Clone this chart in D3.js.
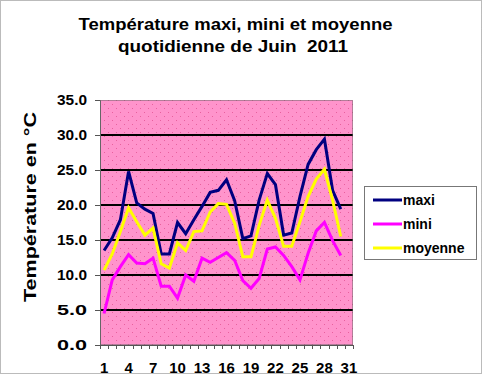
<!DOCTYPE html>
<html>
<head>
<meta charset="utf-8">
<script src="https://cdn.jsdelivr.net/npm/d3@7"></script>
<style>
  body { margin: 0; background: #fff; }
  svg { display: block; font-family: "Liberation Sans", Arial, sans-serif; }
</style>
</head>
<body>
<div id="chart"></div>
<script>
// data: daily temperatures, June 2011
var days = d3.range(1, 32);
var maxi    = [13.5, 15.3, 17.9, 24.8, 20.3, 19.4, 18.8, 13.0, 13.0, 17.5, 15.9, 17.9, 19.8, 21.8, 22.1, 23.6, 20.6, 15.2, 15.6, 20.7, 24.5, 22.9, 15.7, 16.0, 21.2, 25.8, 27.9, 29.4, 22.1, 19.4];
var mini    = [4.5, 9.3, 11.2, 12.9, 11.7, 11.6, 12.4, 8.4, 8.4, 6.7, 10.0, 9.1, 12.4, 11.8, 12.5, 13.2, 12.1, 9.2, 8.1, 9.5, 13.7, 14.0, 12.8, 11.2, 9.3, 13.1, 16.3, 17.5, 14.9, 12.8];
var moyenne = [10.7, 13.0, 16.2, 19.6, 17.6, 15.7, 16.7, 11.6, 11.0, 14.6, 13.5, 16.2, 16.3, 19.0, 20.2, 20.1, 17.4, 12.6, 12.6, 17.1, 20.7, 18.1, 14.1, 14.1, 17.6, 21.2, 23.7, 25.1, 20.7, 15.5];
var yTicks = [0, 5, 10, 15, 20, 25, 30, 35];
var xLabels = [1, 4, 7, 10, 13, 16, 19, 22, 25, 28, 31];

var series = [
  { name: 'maxi', values: maxi, color: '#000080' },
  { name: 'mini', values: mini, color: '#FF00FF' },
  { name: 'moyenne', values: moyenne, color: '#FFFF00' }
];

var W = 484, H = 375;
var plot = { left: 100, right: 353, top: 100, bottom: 345 };

var svg = d3.select('#chart').append('svg')
  .attr('width', W)
  .attr('height', H);

// dotted pink fill like the excel pattern
var defs = svg.append('defs');
var pat = defs.append('pattern')
  .attr('id', 'dots')
  .attr('patternUnits', 'userSpaceOnUse')
  .attr('width', 8)
  .attr('height', 8);
pat.append('rect').attr('width', 8).attr('height', 8).attr('fill', '#FF94CC');
pat.append('rect').attr('x', 0).attr('y', 0).attr('width', 1).attr('height', 1).attr('fill', '#E8609E');
pat.append('rect').attr('x', 4).attr('y', 4).attr('width', 1).attr('height', 1).attr('fill', '#E8609E');

// outer border
svg.append('rect')
  .attr('x', 0.5).attr('y', 0.5)
  .attr('width', W - 3).attr('height', H - 2)
  .attr('fill', '#fff')
  .attr('stroke', '#777')
  .attr('stroke-dasharray', '1,1');

var x = d3.scaleBand()
  .domain(days)
  .range([plot.left, plot.right])
  .padding(0);

var y = d3.scaleLinear()
  .domain([0, 35])
  .range([plot.bottom, plot.top]);

// plot area
svg.append('rect')
  .attr('x', plot.left).attr('y', plot.top)
  .attr('width', plot.right - plot.left)
  .attr('height', plot.bottom - plot.top)
  .attr('fill', 'url(#dots)');

// gridlines
svg.selectAll('.grid')
  .data(yTicks.filter(d => d > 0 && d < 35))
  .enter().append('line')
    .attr('class', 'grid')
    .attr('x1', plot.left).attr('x2', plot.right)
    .attr('y1', d => y(d)).attr('y2', d => y(d))
    .attr('stroke', '#000')
    .attr('stroke-width', 2);

// plot border
svg.append('rect')
  .attr('x', plot.left + 0.5).attr('y', plot.top + 0.5)
  .attr('width', plot.right - plot.left - 1)
  .attr('height', plot.bottom - plot.top - 1)
  .attr('fill', 'none')
  .attr('stroke', '#666')
  .attr('stroke-dasharray', '1,1');

// y axis
var yAxis = d3.axisLeft(y)
  .tickValues(yTicks)
  .tickSize(5)
  .tickPadding(8)
  .tickFormat(d3.format('.1f'));

var gy = svg.append('g')
  .attr('transform', `translate(${plot.left}, 0)`)
  .call(yAxis);
gy.select('.domain').attr('stroke', '#666');
gy.selectAll('.tick line').attr('stroke', '#555');
gy.selectAll('.tick text')
  .attr('font-size', 15)
  .attr('font-weight', 'bold')
  .attr('textLength', 30)
  .attr('lengthAdjust', 'spacingAndGlyphs')
  .attr('fill', '#000');

// x axis: ticks on category boundaries, labels every 3 days
var gx = svg.append('g');
gx.append('line')
  .attr('x1', plot.left).attr('x2', plot.right)
  .attr('y1', plot.bottom + 0.5).attr('y2', plot.bottom + 0.5)
  .attr('stroke', '#555');
gx.selectAll('.xtick')
  .data(days.concat([32]))
  .enter().append('line')
    .attr('class', 'xtick')
    .attr('x1', d => Math.round(d <= 31 ? x(d) : plot.right) + 0.5)
    .attr('x2', d => Math.round(d <= 31 ? x(d) : plot.right) + 0.5)
    .attr('y1', plot.bottom).attr('y2', plot.bottom + 4)
    .attr('stroke', '#555');
gx.selectAll('.xlabel')
  .data(xLabels)
  .enter().append('text')
    .attr('class', 'xlabel')
    .attr('x', d => x(d) + x.bandwidth() / 2)
    .attr('y', 373)
    .attr('text-anchor', 'middle')
    .attr('font-size', 15)
    .attr('font-weight', 'bold')
    .text(d => d);

// lines
var line = d3.line()
  .x((d, i) => x(days[i]) + x.bandwidth() / 2)
  .y(d => y(d));

svg.selectAll('.serie')
  .data(series)
  .enter().append('path')
    .attr('class', 'serie')
    .attr('d', d => line(d.values))
    .attr('fill', 'none')
    .attr('stroke', d => d.color)
    .attr('stroke-width', 3)
    .attr('stroke-linejoin', 'miter');

// title
svg.append('text')
  .attr('x', 235.5).attr('y', 30)
  .attr('text-anchor', 'middle')
  .attr('font-size', 16)
  .attr('font-weight', 'bold')
  .attr('textLength', 314)
  .attr('lengthAdjust', 'spacingAndGlyphs')
  .text('Température maxi, mini et moyenne');
svg.append('text')
  .attr('x', 233).attr('y', 52)
  .attr('text-anchor', 'middle')
  .attr('font-size', 16)
  .attr('font-weight', 'bold')
  .attr('textLength', 230)
  .attr('lengthAdjust', 'spacingAndGlyphs')
  .style('white-space', 'pre')
  .text('quotidienne de Juin  2011');

// y title
svg.append('text')
  .attr('transform', 'translate(36, 207) rotate(-90)')
  .attr('text-anchor', 'middle')
  .attr('font-size', 17)
  .attr('font-weight', 'bold')
  .attr('textLength', 190)
  .attr('lengthAdjust', 'spacingAndGlyphs')
  .text('Température en °C');

// legend
var legend = svg.append('g');
legend.append('rect')
  .attr('x', 364.5).attr('y', 186.5)
  .attr('width', 112).attr('height', 73)
  .attr('fill', '#fff')
  .attr('stroke', '#777');

var item = legend.selectAll('.item')
  .data(series)
  .enter().append('g')
    .attr('class', 'item')
    .attr('transform', (d, i) => `translate(373, ${200 + i * 24})`);
item.append('line')
  .attr('x1', 0).attr('x2', 29)
  .attr('stroke', d => d.color)
  .attr('stroke-width', 3);
item.append('text')
  .attr('x', 30)
  .attr('y', 5)
  .attr('font-size', 14)
  .attr('font-weight', 'bold')
  .text(d => d.name);
</script>
</body>
</html>
